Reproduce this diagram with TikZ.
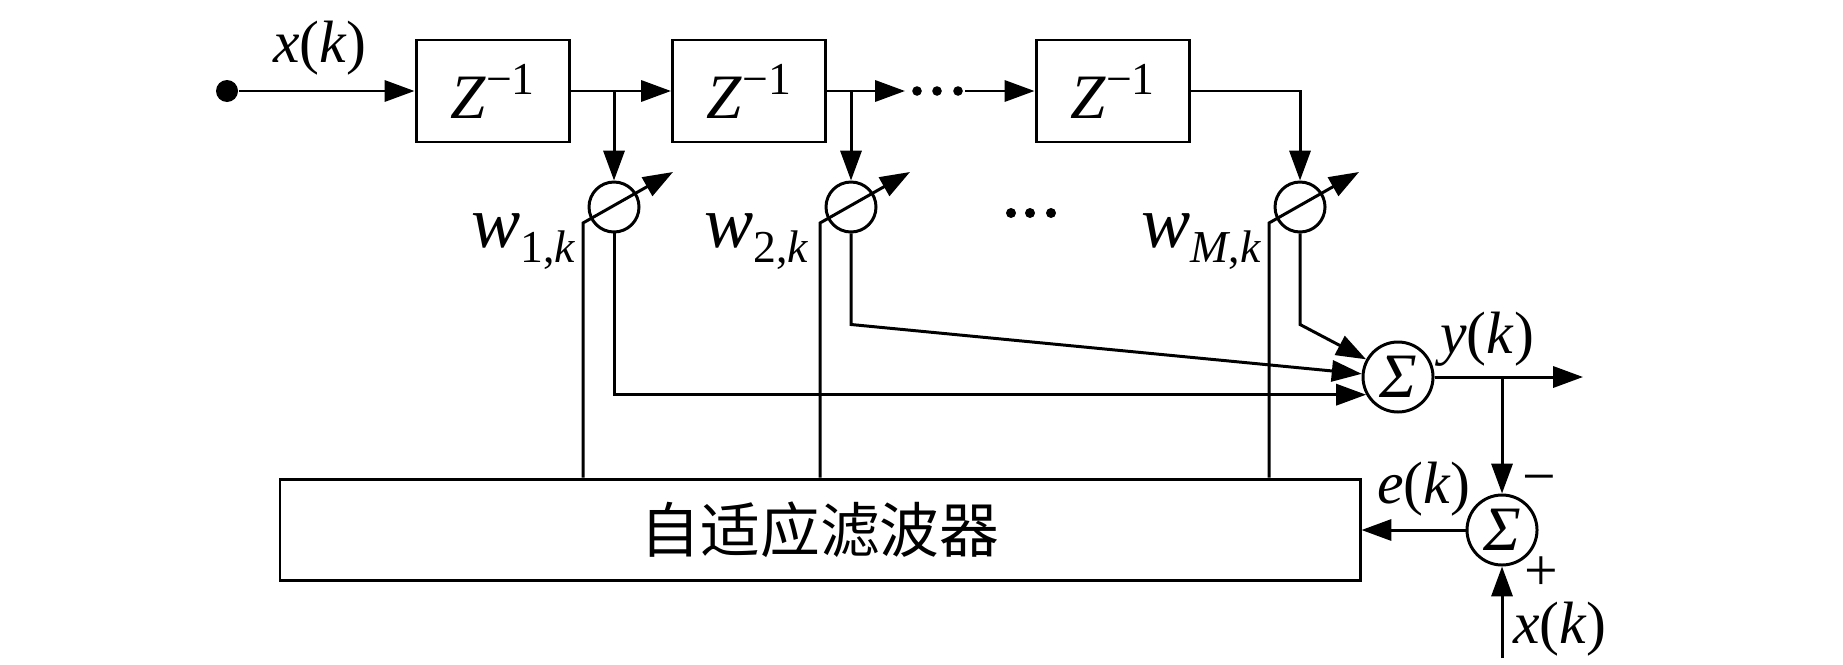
\documentclass[tikz,border=0pt]{standalone}
\usepackage{fontspec}
\setmainfont{Liberation Serif}
\newfontfamily\cjk{Noto Sans CJK SC}
\usetikzlibrary{arrows.meta,positioning}
\newcommand{\lblsize}{\fontsize{17}{17}\selectfont}
\newcommand{\zinv}{\textit{Z}\raisebox{6.8pt}{\fontsize{13}{13}\selectfont −1}}
\newcommand{\wlab}[1]{\textit{w}\raisebox{-4.3pt}{\fontsize{13}{13}\selectfont #1,\textit{k}}}
\tikzset{
    node style delay/.style={draw,minimum width=1.53cm,minimum height=1.02cm,inner sep=0pt,font=\fontsize{18}{18}\selectfont},
    node style weight/.style={draw,circle,minimum size=0.5cm,inner sep=0pt},
    node style sum/.style={draw,circle,minimum size=0.7cm,inner sep=0pt,font=\fontsize{18}{18}\selectfont},
    node style lbl/.style={anchor=base,inner sep=0pt,font=\lblsize},
    node style wlbl/.style={anchor=base,inner sep=0pt,font=\fontsize{21}{21}\selectfont},
    node style dot/.style={circle,fill,inner sep=0pt,minimum size=0.22cm},
}

\begin{document}
\begin{tikzpicture}[>={Triangle[length=8.5pt,width=6pt]},line width=0.85pt]
\useasboundingbox (0,0) rectangle (18.43,-6.64);
% les retards
\node [node style dot] (in) at (2.27,-0.91) {};
\node [node style lbl] (xin) at (3.20,-0.62) {\textit{x}(\textit{k})};
\node [node style delay] (d1) at (4.925,-0.91) {\zinv};
\node [node style delay] (d2) at (7.49,-0.91) {\zinv};
\node [node style delay] (d3) at (11.125,-0.91) {\zinv};
\coordinate (pa) at (9.05,-0.91);
\coordinate (pb) at (9.65,-0.91);
\foreach \x in {9.17,9.37,9.58}
    \fill (\x,-0.91) circle (0.048);
% les poids
\node [node style weight] (w1) at (6.14,-2.07) {};
\node [node style weight] (w2) at (8.51,-2.07) {};
\node [node style weight] (wM) at (13.00,-2.07) {};
\node [node style wlbl] (lw1) at (5.235,-2.47) {\wlab{1}};
\node [node style wlbl] (lw2) at (7.565,-2.47) {\wlab{2}};
\node [node style wlbl] (lwM) at (12.015,-2.47) {\wlab{\textit{M}}};
\foreach \x in {10.11,10.30,10.51}
    \fill (\x,-2.13) circle (0.05);
% sommes et filtre
\node [node style sum] (s1) at (13.98,-3.77) {\textit{Σ}};
\node [node style sum] (s2) at (15.02,-5.30) {\textit{Σ}};
\node [draw,minimum width=10.80cm,minimum height=1.01cm,inner sep=0pt,%
       font=\cjk\fontsize{17}{17}\selectfont] (filt) at (8.20,-5.295)
    {自适应滤波器};
\node [node style lbl] (ly) at (14.87,-3.53) {\textit{y}(\textit{k})};
\node [node style lbl] (le) at (14.24,-5.03) {\textit{e}(\textit{k})};
\node [node style lbl] (lx) at (15.60,-6.43) {\textit{x}(\textit{k})};
\node [font=\lblsize,inner sep=0pt] (sgm) at (15.39,-4.86) {−};
\node [font=\lblsize,inner sep=0pt] (sgp) at (15.41,-5.74) {+};
\coordinate (yout) at (15.83,-3.77);
\coordinate (xbot) at (15.02,-6.58);
% liaisons
\draw [->] (in) -- (d1);
\draw [->] (d1) -- (d2);
\draw [->] (d2) -- (pa);
\draw [->] (pb) -- (d3);
\draw [->] (d3) -| (wM);
\draw [->] (d1.east -| w1) -- (w1);
\draw [->] (d2.east -| w2) -- (w2);
\draw [->] (w1) |- (s1.209);
\draw [->] (w2.south) -- ++(0,-0.91) -- (s1.175);
\draw [->] (wM.south) -- ++(0,-0.91) -- (s1.151);
\draw [->] (s1) -- (yout);
\draw [->] (s1.east -| s2) -- (s2);
\draw [->] (s2) -- (s2 -| filt.east);
\draw [->] (xbot) -- (s2);
\foreach \w in {w1,w2,wM}{
    \path (\w.center) ++(-0.31,-0.16) coordinate (c\w);
    \draw [->] (c\w |- filt.north) -- (c\w) -- ++(0.90,0.51);
}
\end{tikzpicture}
\end{document}
